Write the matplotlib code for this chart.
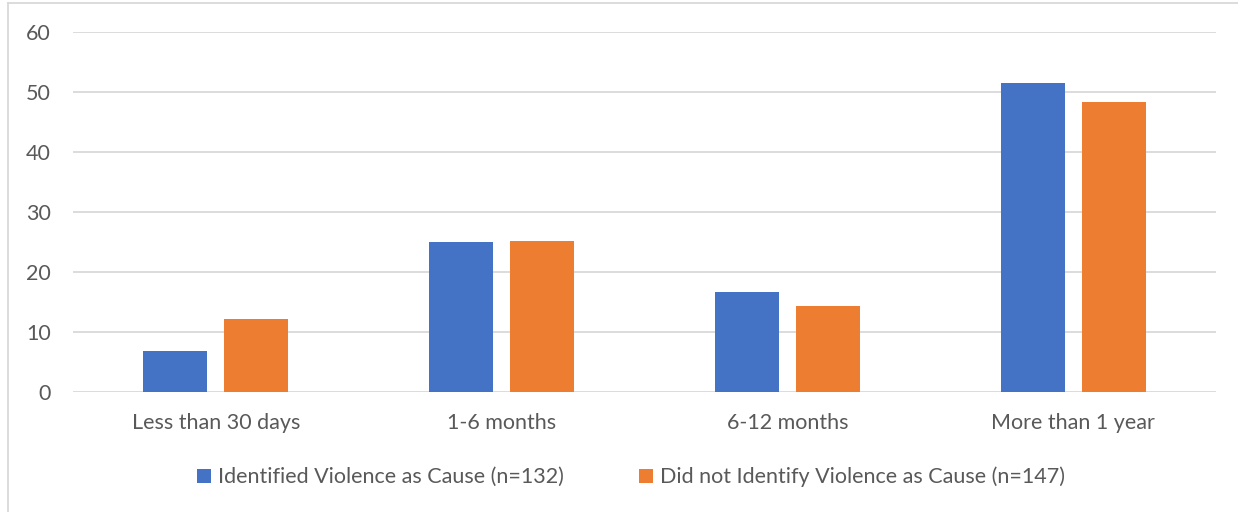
import matplotlib

matplotlib.use("Agg")

import matplotlib.pyplot as plt  # noqa: E402
import numpy as np  # noqa: E402
from matplotlib.lines import Line2D  # noqa: E402

categories = ["Less than 30 days", "1-6 months", "6-12 months", "More than 1 year"]
identified = [6.8, 25.0, 16.7, 51.5]
not_identified = [12.2, 25.2, 14.3, 48.3]
series_labels = [
    "Identified Violence as Cause (n=132)",
    "Did not Identify Violence as Cause (n=147)",
]

BLUE = "#4472C4"
ORANGE = "#ED7D31"
TEXT = "#595959"
GRID = "#D9D9D9"

W, H = 1238, 512
plt.rcParams["font.family"] = ["Lato", "DejaVu Sans"]

fig = plt.figure(figsize=(W / 100, H / 100), dpi=100)
ax = fig.add_axes([73 / W, 1 - 392 / H, (1216 - 73) / W, 360 / H])

x = np.arange(len(categories))
width = 0.224
offset = (width + 0.06) / 2
ax.bar(x - offset, identified, width, color=BLUE, label=series_labels[0], zorder=3)
ax.bar(x + offset, not_identified, width, color=ORANGE, label=series_labels[1], zorder=3)

ax.set_xlim(-0.5, len(categories) - 0.5)
ax.set_ylim(0, 60)
ax.set_yticks(range(0, 61, 10))
ax.set_xticks(x)
ax.set_xticklabels(categories)
ax.grid(axis="y", color=GRID, linewidth=1.3, zorder=0)
ax.tick_params(axis="both", length=0, labelsize=15.5, colors=TEXT)
ax.tick_params(axis="x", pad=15)
ax.tick_params(axis="y", pad=16)
for s in ax.spines.values():
    s.set_visible(False)

leg = fig.legend(
    loc="center",
    bbox_to_anchor=(631 / W, 1 - 477 / H),
    ncol=2,
    frameon=False,
    fontsize=15.5,
    handlelength=0.65,
    handleheight=0.65,
    handletextpad=0.3,
    columnspacing=3.5,
)
for t in leg.get_texts():
    t.set_color(TEXT)

# outer chart frame (top and left edges)
fig.add_artist(Line2D([8 / W, 1], [1 - 3 / H, 1 - 3 / H], transform=fig.transFigure,
                      color=GRID, linewidth=1.3))
fig.add_artist(Line2D([8 / W, 8 / W], [0, 1 - 3 / H], transform=fig.transFigure,
                      color=GRID, linewidth=1.3))

fig.savefig("out.png", dpi=100, facecolor="white")
